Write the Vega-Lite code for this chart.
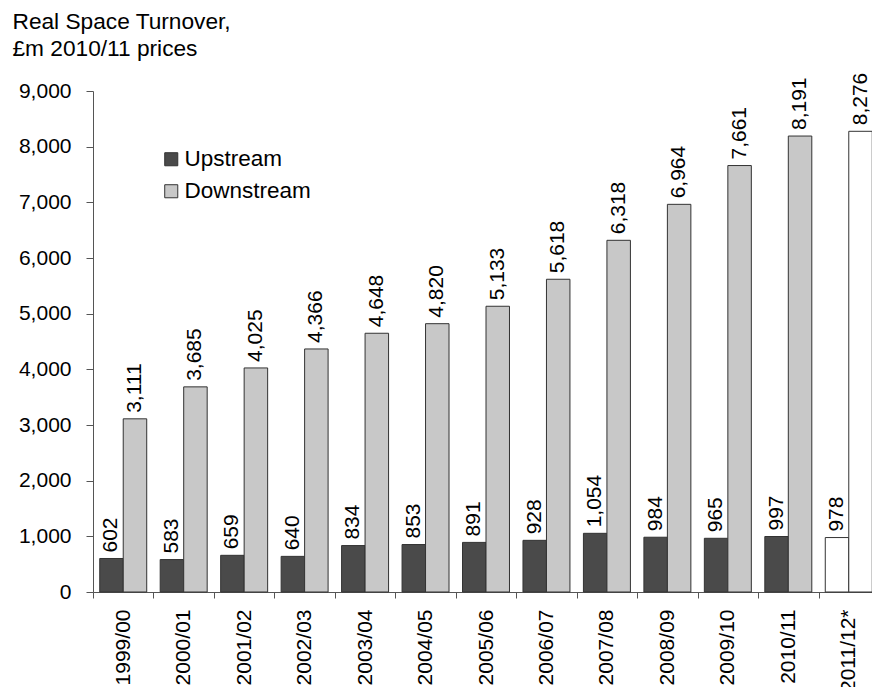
{
  "$schema": "https://vega.github.io/schema/vega-lite/v6.json",
  "autosize": "none",
  "width": 779,
  "height": 501,
  "padding": {"left": 93, "top": 91, "right": 0, "bottom": 95},
  "background": "white",
  "config": {
    "view": {"stroke": null},
    "font": "Liberation Sans",
    "axis": {"labelFont": "Liberation Sans", "titleFont": "Liberation Sans"},
    "legend": {"labelFont": "Liberation Sans"}
  },
  "data": {
    "values": [
      {"year": "1999/00", "series": "Upstream", "value": 602},
      {"year": "1999/00", "series": "Downstream", "value": 3111},
      {"year": "2000/01", "series": "Upstream", "value": 583},
      {"year": "2000/01", "series": "Downstream", "value": 3685},
      {"year": "2001/02", "series": "Upstream", "value": 659},
      {"year": "2001/02", "series": "Downstream", "value": 4025},
      {"year": "2002/03", "series": "Upstream", "value": 640},
      {"year": "2002/03", "series": "Downstream", "value": 4366},
      {"year": "2003/04", "series": "Upstream", "value": 834},
      {"year": "2003/04", "series": "Downstream", "value": 4648},
      {"year": "2004/05", "series": "Upstream", "value": 853},
      {"year": "2004/05", "series": "Downstream", "value": 4820},
      {"year": "2005/06", "series": "Upstream", "value": 891},
      {"year": "2005/06", "series": "Downstream", "value": 5133},
      {"year": "2006/07", "series": "Upstream", "value": 928},
      {"year": "2006/07", "series": "Downstream", "value": 5618},
      {"year": "2007/08", "series": "Upstream", "value": 1054},
      {"year": "2007/08", "series": "Downstream", "value": 6318},
      {"year": "2008/09", "series": "Upstream", "value": 984},
      {"year": "2008/09", "series": "Downstream", "value": 6964},
      {"year": "2009/10", "series": "Upstream", "value": 965},
      {"year": "2009/10", "series": "Downstream", "value": 7661},
      {"year": "2010/11", "series": "Upstream", "value": 997},
      {"year": "2010/11", "series": "Downstream", "value": 8191},
      {"year": "2011/12*", "series": "Upstream", "value": 978},
      {"year": "2011/12*", "series": "Downstream", "value": 8276}
    ]
  },
  "encoding": {
    "x": {
      "field": "year",
      "type": "nominal",
      "sort": null,
      "scale": {"range": [0, 786], "paddingInner": 0, "paddingOuter": 0},
      "axis": {
        "title": null,
        "labelAngle": 270,
        "labelAlign": "right",
        "labelBaseline": "middle",
        "labelFontSize": 21,
        "labelColor": "#000",
        "labelPadding": 11,
        "tickBand": "extent",
        "tickSize": 6,
        "tickColor": "#555",
        "domainColor": "#555"
      }
    },
    "xOffset": {
      "field": "series",
      "sort": ["Upstream", "Downstream"],
      "scale": {"paddingInner": 0, "paddingOuter": 0.287}
    },
    "y": {
      "field": "value",
      "type": "quantitative",
      "scale": {"domain": [0, 9000], "nice": false},
      "axis": {
        "values": [0, 1000, 2000, 3000, 4000, 5000, 6000, 7000, 8000, 9000],
        "format": ",.0f",
        "grid": false,
        "labelFontSize": 21,
        "labelColor": "#000",
        "labelPadding": 15,
        "tickSize": 7,
        "tickColor": "#555",
        "domainColor": "#555",
        "title": ["Real Space Turnover,", "£m 2010/11 prices"],
        "titleAngle": 0,
        "titleAlign": "left",
        "titleBaseline": "alphabetic",
        "titleX": -81,
        "titleY": -63,
        "titleFontSize": 22.7,
        "titleFontWeight": "normal",
        "titleColor": "#000",
        "titleLineHeight": 27
      }
    }
  },
  "layer": [
    {
      "mark": {"type": "bar", "stroke": "#333", "strokeWidth": 1},
      "encoding": {
        "fill": {
          "condition": {"test": "datum.year === '2011/12*'", "value": "white"},
          "field": "series",
          "type": "nominal",
          "scale": {"domain": ["Upstream", "Downstream"], "range": ["#4a4a4a", "#c8c8c8"]},
          "legend": {
            "orient": "none",
            "legendX": 67,
            "legendY": 57,
            "title": null,
            "symbolType": "square",
            "symbolSize": 170,
            "symbolStrokeColor": "#333",
            "symbolStrokeWidth": 1,
            "labelFontSize": 22.5,
            "labelColor": "#000",
            "labelOffset": 2,
            "rowPadding": 9
          }
        }
      }
    },
    {
      "mark": {
        "type": "text",
        "angle": 270,
        "align": "left",
        "baseline": "middle",
        "dx": 6,
        "fontSize": 21,
        "color": "#000"
      },
      "encoding": {
        "text": {"field": "value", "type": "quantitative", "format": ","}
      }
    }
  ]
}
